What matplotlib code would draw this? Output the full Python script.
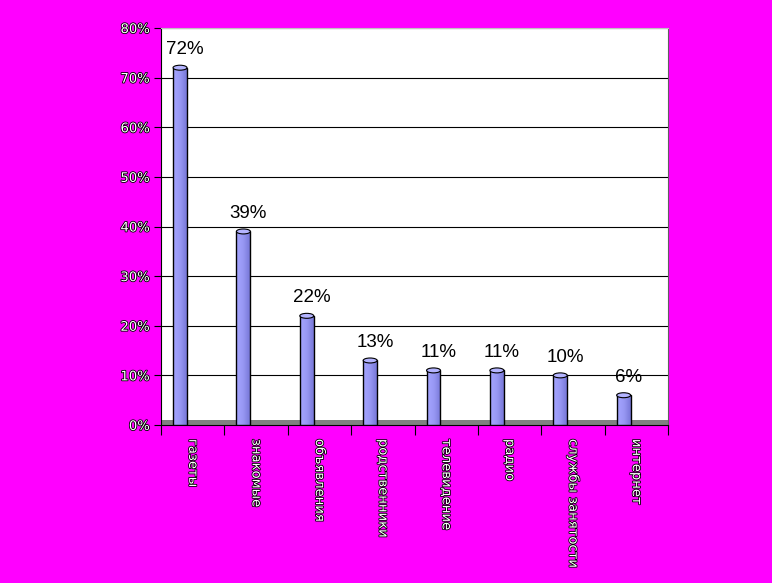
import numpy as np
import matplotlib
matplotlib.use("Agg")
import matplotlib.pyplot as plt
import matplotlib.patheffects as pe
from matplotlib.patches import Ellipse, Rectangle

# data
categories = ["газеты", "знакомые", "объявления", "родственники",
              "телевидение", "радио", "службы занятости", "интернет"]
values = [72, 39, 22, 13, 11, 11, 10, 6]
yticks = [0, 10, 20, 30, 40, 50, 60, 70, 80]

fig = plt.figure(figsize=(7.72, 5.83), dpi=100, facecolor="#ff00ff")
ax = fig.add_axes([161/772, 1 - 425/583, (668 - 161)/772, (425 - 28)/583])
ax.set_facecolor("white")

x = np.arange(len(values))
bw = 0.22
xc = x - 0.2

# cylinders with a left-to-right shading
grad = np.linspace(0, 1, 50).reshape(1, -1)
cmap = matplotlib.colors.LinearSegmentedColormap.from_list(
    "cyl", ["#a4a4ff", "#9898f4", "#7878d8"])
bars = ax.bar(xc, values, width=bw, color="#9999ff", zorder=3)
for b, v in zip(bars, values):
    im = ax.imshow(grad, extent=[b.get_x(), b.get_x() + bw, 0, v],
                   aspect="auto", cmap=cmap, zorder=3.5)
    im.set_clip_path(b)
ax.bar(xc, values, width=bw, facecolor="none", edgecolor="black",
       linewidth=1, zorder=4)
for c, v in zip(xc, values):
    ax.add_patch(Ellipse((c, v), bw, 1.0, facecolor="#b4b4ff",
                         edgecolor="black", linewidth=0.8, zorder=5))
    ax.text(c + 0.08, v + 1.9, f"{v}%", ha="center", va="bottom",
            fontsize=13.5, family="Liberation Sans", color="black", zorder=6)

# floor of the 3d box
ax.add_patch(Rectangle((0, 0), 1, 0.012, transform=ax.transAxes,
                       facecolor="#808080", edgecolor="none", zorder=2))

ax.set_xlim(-0.5, len(values) - 0.5)
ax.set_ylim(0, 80)
ax.set_yticks(yticks)
ax.set_yticklabels([f"{t}%" for t in yticks])
ax.yaxis.grid(True, color="black", linewidth=0.8)
ax.set_axisbelow(True)

ax.set_xticks(np.arange(-0.5, len(values), 1))
ax.set_xticklabels([])
ax.set_xticks(x, minor=True)
ax.set_xticklabels(categories, minor=True, rotation=-90, va="top", ha="center")
ax.tick_params(axis="x", which="major", length=7, color="black", direction="out")
ax.tick_params(axis="x", which="minor", length=0, pad=10)
ax.tick_params(axis="y", length=5, color="black", pad=3)

outline = [pe.Stroke(linewidth=1.2, foreground="black"), pe.Normal()]
for lab in ax.get_yticklabels() + ax.get_xticklabels(minor=True):
    lab.set_color("white")
    lab.set_fontsize(9.5)
    lab.set_path_effects(outline)

for s in ["left", "bottom"]:
    ax.spines[s].set_color("black")
ax.spines["top"].set_color("#c0c0c0")
ax.spines["right"].set_color("#606060")

fig.savefig("out.png", dpi=100, facecolor=fig.get_facecolor())
